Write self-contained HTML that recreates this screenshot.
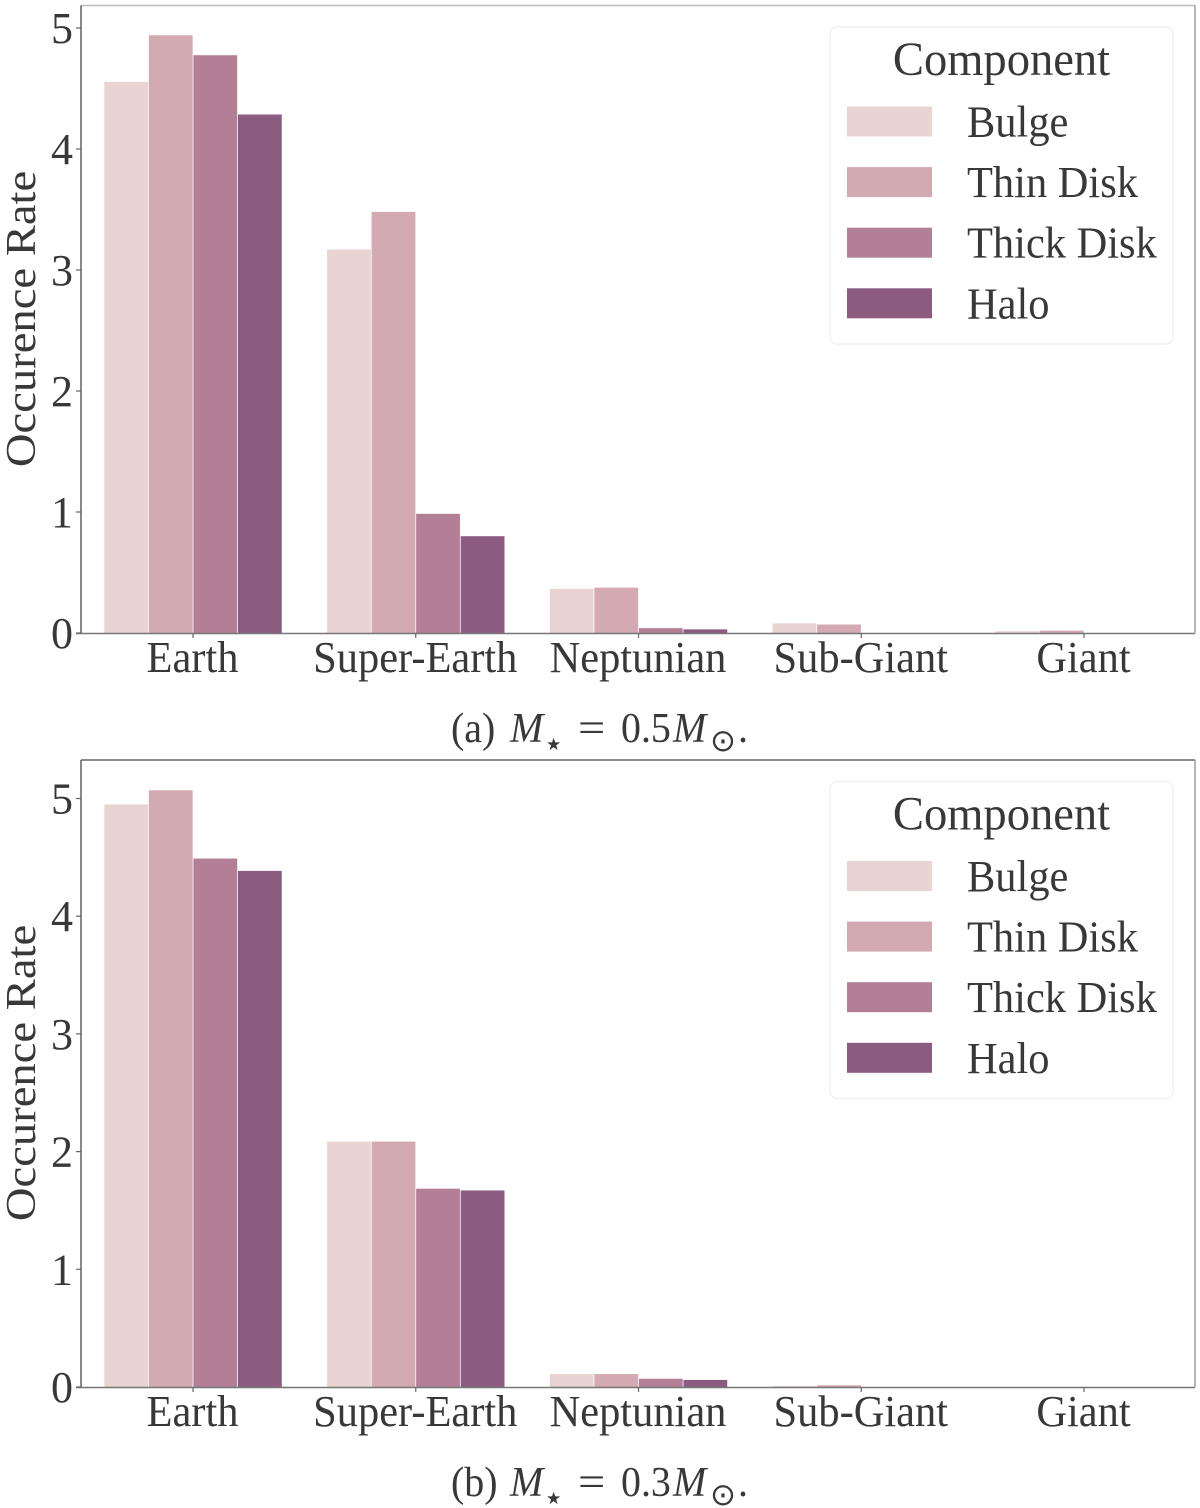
<!DOCTYPE html>
<html>
<head>
<meta charset="utf-8">
<style>
html,body{margin:0;padding:0;background:#fff;width:1200px;height:1508px;overflow:hidden}
svg{display:block}
text{font-family:"Liberation Serif","DejaVu Serif",serif;fill:#383838}
</style>
</head>
<body>
<svg id="figure" xmlns="http://www.w3.org/2000/svg" width="1200" height="1508" viewBox="0 0 1200 1508"></svg>
<script>
const categories = ["Earth", "Super-Earth", "Neptunian", "Sub-Giant", "Giant"];
const components = ["Bulge", "Thin Disk", "Thick Disk", "Halo"];
const colors = ["#e9d4d3", "#d3aab1", "#b27f97", "#8b5c80"];
const yTicks = [0, 1, 2, 3, 4, 5];

const bulgeA = [4.555, 3.17, 0.365, 0.08, 0.015];
const thinA = [4.94, 3.48, 0.375, 0.07, 0.02];
const thickA = [4.775, 0.985, 0.04, 0, 0];
const haloA = [4.285, 0.80, 0.03, 0, 0];

const bulgeB = [4.95, 2.085, 0.11, 0.01, 0];
const thinB = [5.07, 2.085, 0.11, 0.015, 0];
const thickB = [4.49, 1.685, 0.07, 0, 0];
const haloB = [4.385, 1.67, 0.06, 0, 0];

const svg = document.getElementById('figure');
const NS = 'http://www.w3.org/2000/svg';

function make(tag, attrs, parent) {
  const el = document.createElementNS(NS, tag);
  for (const k in attrs) el.setAttribute(k, attrs[k]);
  (parent || svg).appendChild(el);
  return el;
}
function label(str, x, y, size, sx, anchor, parent) {
  const el = make('text', {
    transform: 'translate(' + x + ',' + y + ') scale(' + sx + ',1)',
    'font-size': size,
    'text-anchor': anchor
  }, parent);
  el.textContent = str;
  return el;
}
function xScale(catIndex, seriesIndex) {
  return 193 + catIndex * 222.75 + (seriesIndex - 2) * 44.55;
}
function xCenter(catIndex) {
  return 193 + catIndex * 222.75;
}

function drawPanel(id, series, top, bottom, unit, topColor, captionLetter, massText) {
  const yScale = v => bottom - v * unit;
  const g = make('g', {});
  
  

  series.forEach((vals, s) => {
    vals.forEach((v, c) => {
      if (v <= 0) return;
      const r = make('rect', {
        x: xScale(c, s) + 0.4,
        y: yScale(v),
        width: 43.8,
        height: bottom - yScale(v),
        fill: colors[s]
      }, g);
      
      
    });
  });

  const spineTop = make('line', {x1: 81, x2: 1195, y1: top, y2: top, stroke: topColor, 'stroke-width': 1.4}, g);
  
  
  const spineRight = make('line', {x1: 1195, x2: 1195, y1: top, y2: bottom, stroke: '#8f8f8f', 'stroke-width': 1.3}, g);
  
  
  const spineLeft = make('line', {x1: 81, x2: 81, y1: top, y2: bottom, stroke: '#555', 'stroke-width': 1.4}, g);
  
  
  const spineBottom = make('line', {x1: 76, x2: 1195, y1: bottom + 0.5, y2: bottom + 0.5, stroke: '#777', 'stroke-width': 1.6}, g);
  
  

  yTicks.forEach(t => {
    const y = yScale(t);
    const tick = make('line', {x1: 76, x2: 81, y1: y, y2: y, stroke: '#666', 'stroke-width': 1.2}, g);
    
    
    const tl = label(String(t), 73, y + 15, 44, 1, 'end', g);
    
    
  });

  categories.forEach((cat, c) => {
    const x = xCenter(c);
    const tick = make('line', {x1: x, x2: x, y1: bottom, y2: bottom + 5, stroke: '#666', 'stroke-width': 1.2}, g);
    
    
    const tl = label(cat, x - 0.5, bottom + 39, 44, 0.965, 'middle', g);
    
    
  });

  const yTitle = make('text', {
    transform: 'translate(35,' + (bottom - 314) + ') rotate(-90) scale(1.11,1)',
    'font-size': 42,
    'text-anchor': 'middle'
  }, g);
  yTitle.textContent = 'Occurence Rate';
  
  

  /* legend */
  const legendTop = top + 21.5;
  const lg = make('g', {}, g);
  
  
  const box = make('rect', {x: 830, y: legendTop, width: 343, height: 317, rx: 7, fill: '#fff', stroke: '#eeeeee', 'stroke-width': 1.2}, lg);
  
  
  const lt = label('Component', 1001.5, legendTop + 48, 48, 0.97, 'middle', lg);
  
  
  components.forEach((name, i) => {
    const rowY = legendTop + 79.5 + i * 60.6;
    const sw = make('rect', {x: 847, y: rowY, width: 85, height: 30, fill: colors[i]}, lg);
    
    
    const tx = label(name, 967, rowY + 30, 44, 0.965, 'start', lg);
    
    
  });

  /* caption */
  const base = bottom + 109;
  const cg = make('g', {}, g);
  
  
  label(captionLetter, 451, base, 42, 0.95, 'start', cg);
  label('M', 510, base, 42, 0.95, 'start', cg).setAttribute('font-style', 'italic');
  const star = label('★', 546, base + 8, 17, 1, 'start', cg);
  star.setAttribute('style', 'font-family:"DejaVu Sans",sans-serif');
  label('=', 578, base, 42, 1.15, 'start', cg);
  label(massText, 621, base, 42, 0.95, 'start', cg);
  label('M', 673, base, 42, 0.95, 'start', cg).setAttribute('font-style', 'italic');
  const sun = label('⊙', 710, base + 9, 31, 1, 'start', cg);
  sun.setAttribute('style', 'font-family:"DejaVu Sans",sans-serif');
  label('.', 738, base, 42, 0.95, 'start', cg);
}

drawPanel('a', [bulgeA, thinA, thickA, haloA], 5.5, 633, 121, '#bcbcbc', '(a)', '0.5');
drawPanel('b', [bulgeB, thinB, thickB, haloB], 760, 1387, 117.7, '#666666', '(b)', '0.3');
</script>
</body>
</html>
